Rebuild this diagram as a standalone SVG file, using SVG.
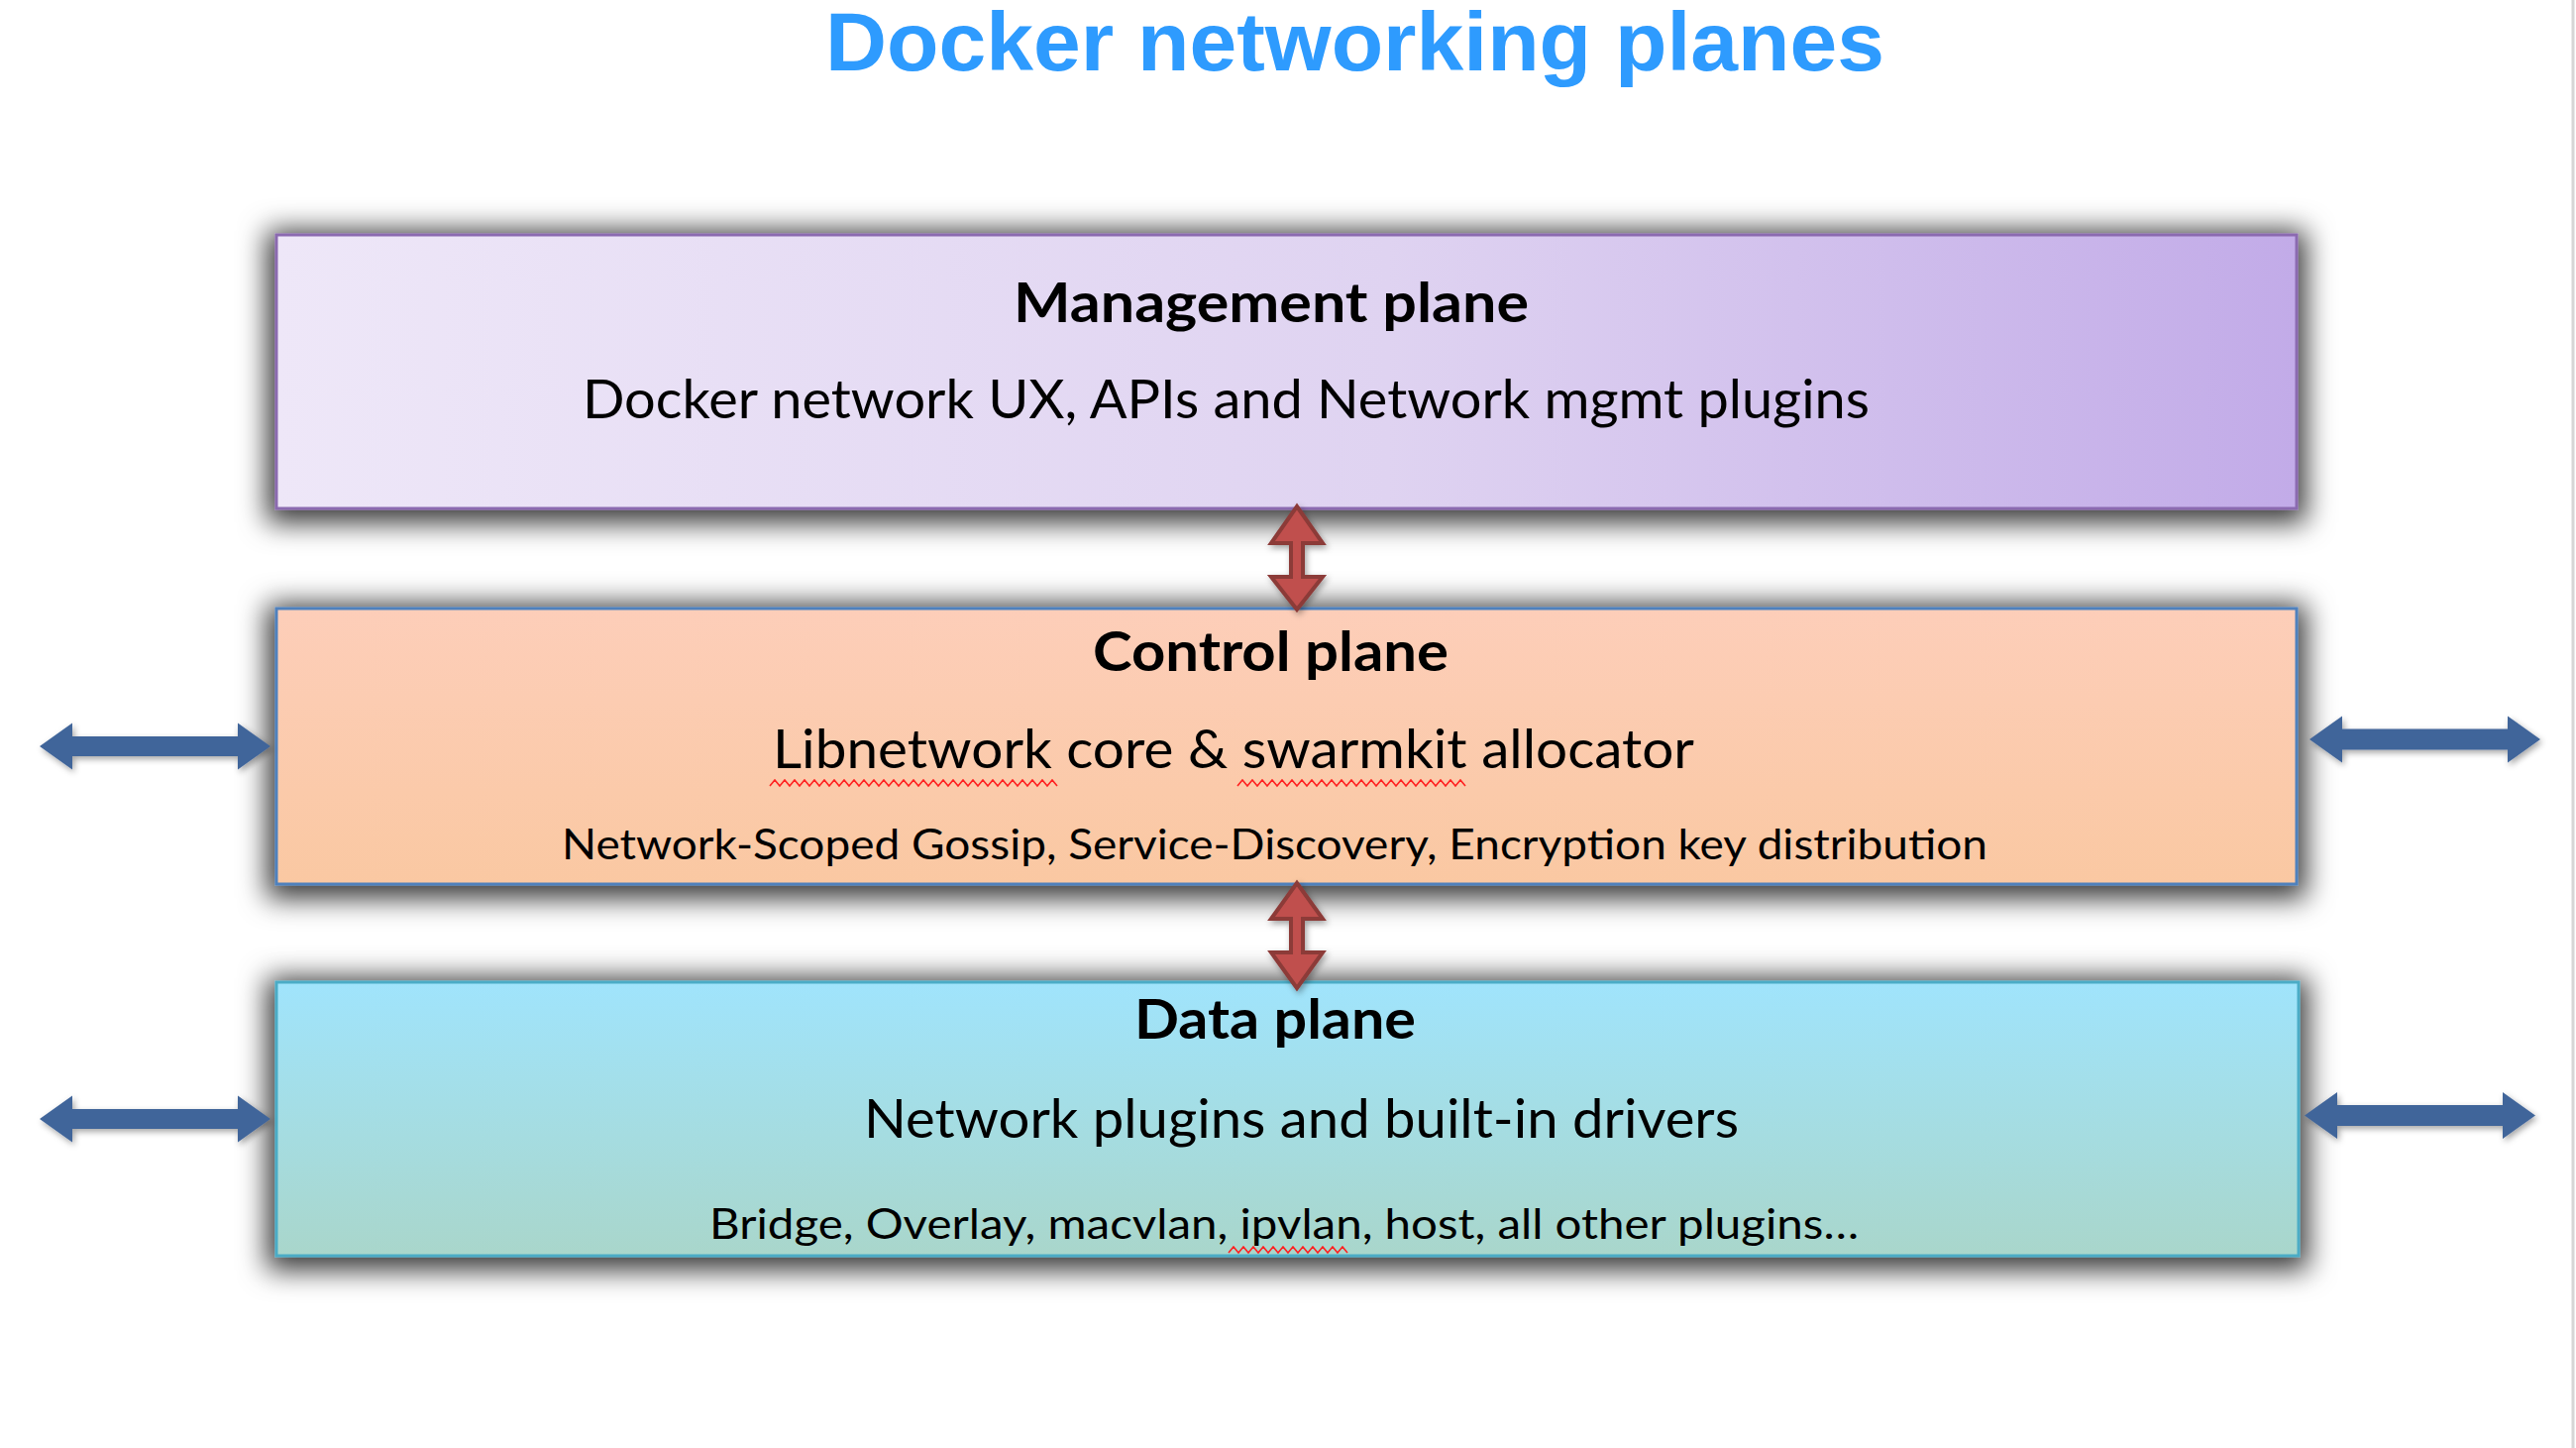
<svg xmlns="http://www.w3.org/2000/svg" width="2600" height="1461" viewBox="0 0 2600 1461">
  <defs>
    <linearGradient id="gMgmt" x1="0" y1="0" x2="1" y2="0">
      <stop offset="0" stop-color="#EEE7F8"/>
      <stop offset="0.55" stop-color="#DFD3F1"/>
      <stop offset="1" stop-color="#C2ABE8"/>
    </linearGradient>
    <linearGradient id="gCtrl" x1="0" y1="0" x2="0" y2="1">
      <stop offset="0" stop-color="#FDCEB9"/>
      <stop offset="1" stop-color="#FAC8A2"/>
    </linearGradient>
    <linearGradient id="gData" x1="0" y1="0" x2="0" y2="1">
      <stop offset="0" stop-color="#A0E4FC"/>
      <stop offset="1" stop-color="#A9D6CB"/>
    </linearGradient>
    <filter id="boxShadow" x="-6%" y="-40%" width="112%" height="190%">
      <feMorphology in="SourceAlpha" operator="dilate" radius="8" result="d"/>
      <feGaussianBlur in="d" stdDeviation="14"/>
      <feOffset dx="0" dy="5" result="b"/>
      <feFlood flood-color="#000" flood-opacity="0.78"/>
      <feComposite in2="b" operator="in"/>
      <feMerge>
        <feMergeNode/>
        <feMergeNode in="SourceGraphic"/>
      </feMerge>
    </filter>
    <filter id="arrowShadow" x="-20%" y="-40%" width="140%" height="180%">
      <feGaussianBlur in="SourceAlpha" stdDeviation="3"/>
      <feOffset dx="2" dy="3" result="b"/>
      <feFlood flood-color="#000" flood-opacity="0.35"/>
      <feComposite in2="b" operator="in"/>
      <feMerge>
        <feMergeNode/>
        <feMergeNode in="SourceGraphic"/>
      </feMerge>
    </filter>
  </defs>
  <style>
    .box { stroke-width: 3; }
    .head { font-family: Lato, "Open Sans", "Liberation Sans", sans-serif; font-weight: bold; font-size: 55px; fill: #000; }
    .mid { font-family: Lato, "Open Sans", "Liberation Sans", sans-serif; font-size: 55px; fill: #000; }
    .small { font-family: Lato, "Open Sans", "Liberation Sans", sans-serif; font-size: 42px; fill: #000; }
    .title { font-family: "Liberation Sans", Arial, sans-serif; font-weight: bold; font-size: 84px; fill: #2E9BFE; }
    .squig { fill: none; stroke: #FF2020; stroke-width: 1.6; }
    .varrow { fill: #C0504D; stroke: #8C3A38; stroke-width: 4; stroke-linejoin: miter; }
    .harrow { fill: #41659A; }
  </style>

  <rect x="0" y="0" width="2600" height="1461" fill="#FFFFFF"/>
  <line x1="2597" y1="0" x2="2597" y2="1461" stroke="#D6D6D6" stroke-width="3"/>

  <g id="title">
    <text class="title" x="833" y="71" textLength="1069" lengthAdjust="spacingAndGlyphs">Docker networking planes</text>
  </g>

  <g id="node-management">
    <rect class="box" x="279" y="237" width="2039" height="276" fill="url(#gMgmt)" stroke="#8B6BB0" filter="url(#boxShadow)"/>
    <text class="head" x="1023" y="325" textLength="520" lengthAdjust="spacingAndGlyphs">Management plane</text>
    <text class="mid" x="588" y="422" textLength="1299" lengthAdjust="spacingAndGlyphs">Docker network UX, APIs and Network mgmt plugins</text>
  </g>

  <g id="node-control">
    <rect class="box" x="279" y="614" width="2039" height="278" fill="url(#gCtrl)" stroke="#4F81BD" filter="url(#boxShadow)"/>
    <text class="head" x="1103" y="677" textLength="359" lengthAdjust="spacingAndGlyphs">Control plane</text>
    <text class="mid" x="780" y="775" textLength="930" lengthAdjust="spacingAndGlyphs">Libnetwork core &amp; swarmkit allocator</text>
    <path class="squig" d="M777,793 l5,-6 5,6 5,-6 5,6 5,-6 5,6 5,-6 5,6 5,-6 5,6 5,-6 5,6 5,-6 5,6 5,-6 5,6 5,-6 5,6 5,-6 5,6 5,-6 5,6 5,-6 5,6 5,-6 5,6 5,-6 5,6 5,-6 5,6 5,-6 5,6 5,-6 5,6 5,-6 5,6 5,-6 5,6 5,-6 5,6 5,-6 5,6 5,-6 5,6 5,-6 5,6 5,-6 5,6 5,-6 5,6 5,-6 5,6 5,-6 5,6 5,-6 5,6 5,-6 5,6"/>
    <path class="squig" d="M1249,793 l5,-6 5,6 5,-6 5,6 5,-6 5,6 5,-6 5,6 5,-6 5,6 5,-6 5,6 5,-6 5,6 5,-6 5,6 5,-6 5,6 5,-6 5,6 5,-6 5,6 5,-6 5,6 5,-6 5,6 5,-6 5,6 5,-6 5,6 5,-6 5,6 5,-6 5,6 5,-6 5,6 5,-6 5,6 5,-6 5,6 5,-6 5,6 5,-6 5,6 5,-6 5,6"/>
    <text class="small" x="567" y="867" textLength="1439" lengthAdjust="spacingAndGlyphs">Network-Scoped Gossip, Service-Discovery, Encryption key distribution</text>
  </g>

  <g id="node-data">
    <rect class="box" x="279" y="991" width="2041" height="276" fill="url(#gData)" stroke="#4BACC6" filter="url(#boxShadow)"/>
    <text class="head" x="1145" y="1048" textLength="284" lengthAdjust="spacingAndGlyphs">Data plane</text>
    <text class="mid" x="872" y="1148" textLength="883" lengthAdjust="spacingAndGlyphs">Network plugins and built-in drivers</text>
    <text class="small" x="716" y="1250" textLength="1160" lengthAdjust="spacingAndGlyphs">Bridge, Overlay, macvlan, ipvlan, host, all other plugins…</text>
    <path class="squig" d="M1240,1264 l5,-6 5,6 5,-6 5,6 5,-6 5,6 5,-6 5,6 5,-6 5,6 5,-6 5,6 5,-6 5,6 5,-6 5,6 5,-6 5,6 5,-6 5,6 5,-6 5,6 5,-6 5,6"/>
  </g>

  <g id="connectors">
    <polygon id="arrow-mgmt-ctrl" class="varrow" filter="url(#arrowShadow)" points="1309,511 1335,548 1315,548 1315,582 1335,582 1309,615 1283,582 1303,582 1303,548 1283,548"/>
    <polygon id="arrow-ctrl-data" class="varrow" filter="url(#arrowShadow)" points="1309,891 1335,927 1315,927 1315,961 1335,961 1309,997 1283,961 1303,961 1303,927 1283,927"/>
    <polygon id="arrow-ctrl-left" class="harrow" filter="url(#arrowShadow)" points="40,753 73,729.5 73,743 240,743 240,729.5 273,753 240,776.5 240,763 73,763 73,776.5"/>
    <polygon id="arrow-ctrl-right" class="harrow" filter="url(#arrowShadow)" points="2331,746 2364,722.5 2364,735.5 2531,735.5 2531,722.5 2564,746 2531,769.5 2531,756.5 2364,756.5 2364,769.5"/>
    <polygon id="arrow-data-left" class="harrow" filter="url(#arrowShadow)" points="40,1129 73,1105.5 73,1119 240,1119 240,1105.5 273,1129 240,1152.5 240,1139 73,1139 73,1152.5"/>
    <polygon id="arrow-data-right" class="harrow" filter="url(#arrowShadow)" points="2326,1125.5 2359,1102 2359,1115 2526,1115 2526,1102 2559,1125.5 2526,1149 2526,1136 2359,1136 2359,1149"/>
  </g>
</svg>
